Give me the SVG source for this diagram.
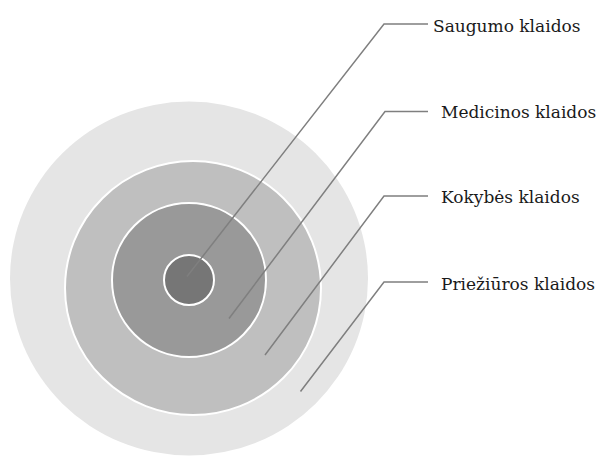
<svg xmlns="http://www.w3.org/2000/svg" width="597" height="456" viewBox="0 0 597 456">
<style>
.ring{stroke:#ffffff;stroke-width:2}
.conn{fill:none;stroke:#7f7f7f;stroke-width:1.5}
.lbl{font-size:17px;fill:#1a1a1a;font-family:"DejaVu Serif",serif}
</style>
<rect width="597" height="456" fill="#ffffff"/>
<g id="ring-prieziuros"><ellipse cx="189" cy="278.5" rx="179" ry="177" fill="#e5e5e5"/></g>
<g id="ring-kokybes"><ellipse class="ring" cx="193" cy="288" rx="128" ry="127" fill="#bfbfbf"/></g>
<g id="ring-medicinos"><circle class="ring" cx="189" cy="280" r="77" fill="#999999"/></g>
<g id="ring-saugumo"><circle class="ring" cx="189" cy="280" r="25" fill="#767676"/></g>
<g id="connectors">
<polyline class="conn" points="428,24 384,24 187,276.5"/>
<polyline class="conn" points="428,111.5 385,111.5 229,318.5"/>
<polyline class="conn" points="428,196 384,196 265,355"/>
<polyline class="conn" points="428,282 384,282 300.5,391.5"/>
</g>
<g id="label-saugumo"><text class="lbl" x="433" y="31.5">Saugumo klaidos</text></g>
<g id="label-medicinos"><text class="lbl" x="441" y="118">Medicinos klaidos</text></g>
<g id="label-kokybes"><text class="lbl" x="441" y="203">Kokybės klaidos</text></g>
<g id="label-prieziuros"><text class="lbl" x="441" y="289.5">Priežiūros klaidos</text></g>
</svg>
